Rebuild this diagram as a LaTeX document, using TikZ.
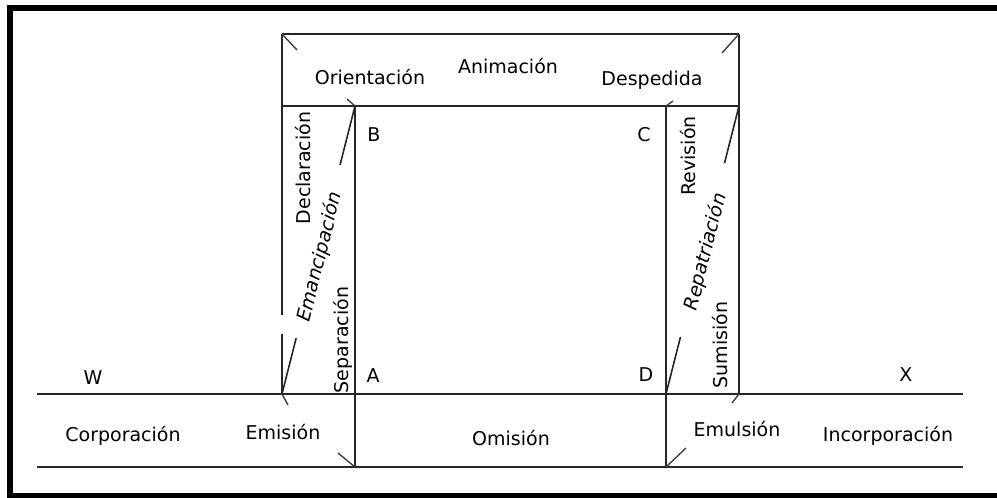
\documentclass[tikz,border=0pt]{standalone}
\usepackage{fontspec}
\setmainfont{DejaVu Sans}
\usetikzlibrary{calc}
\begin{document}
\begin{tikzpicture}[x=1pt,y=-1pt,
  ln/.style={line width=1.6pt, draw=black!85},
  tickln/.style={line width=1.4pt, draw=black!75},
  lbl/.style={font=\fontsize{19}{22}\selectfont, inner sep=0pt, text=black},
  ilbl/.style={font=\fontsize{19}{22}\selectfont\itshape, inner sep=0pt, text=black}]
\useasboundingbox (0,0) rectangle (997,498);
\clip (0,0) rectangle (997,498);
\draw[line width=6pt] (10,8) rectangle (1010,496);
% points
\coordinate (TL) at (282,34);
\coordinate (TR) at (739,34);
\coordinate (ML) at (282,106);
\coordinate (MR) at (739,106);
\coordinate (B) at (355,106);
\coordinate (C) at (666,106);
\coordinate (D) at (666,394);
\coordinate (LW) at (282,394);
\coordinate (RX) at (739,394);
\coordinate (Abot) at (355,467);
\coordinate (Dbot) at (666,467);
\coordinate (W0) at (37,394);
\coordinate (X1) at (963,394);
\coordinate (BL0) at (37,467);
\coordinate (BR1) at (963,467);
\coordinate (gapL1) at (282,315);
\coordinate (gapL2) at (282,334);
% frame lines
\draw[ln] (TL) -- (TR);
\draw[ln] (ML) -- (MR);
\draw[ln] (TL) -- (gapL1);
\draw[ln] (gapL2) -- (LW);
\draw[ln] (TR) -- (RX);
\draw[ln] (B) -- (Abot);
\draw[ln] (C) -- (Dbot);
\draw[ln] (W0) -- (X1);
\draw[ln] (BL0) -- (BR1);
% long diagonals with gaps for labels
\draw[ln] (B) -- ($(B)!0.205!(LW)$);
\draw[ln] ($(B)!0.806!(LW)$) -- (LW);
\draw[ln] (MR) -- ($(MR)!0.198!(D)$);
\draw[ln] ($(MR)!0.802!(D)$) -- (D);
% ticks
\draw[tickln] (TL) -- (297,50);
\draw[tickln] (347,99) -- (B);
\draw[tickln] (LW) -- (288,405);
\draw[tickln] (338,453) -- (Abot);
\draw[tickln] (TR) -- (722,53);
\draw[tickln] (C) -- (673,101);
\draw[tickln] (RX) -- (732,403);
\draw[tickln] (Dbot) -- (686,448);
% labels
\node[lbl] (anim) at (508,66) {Animación};
\node[lbl] (orient) at (370,77) {Orientación};
\node[lbl] (desp) at (652,80) {Despedida};
\node[lbl] (lB) at (374,135) {B};
\node[lbl] (lC) at (644,135) {C};
\node[lbl] (lA) at (373,376) {A};
\node[lbl] (lD) at (646,375) {D};
\node[lbl] (lW) at (93,378) {W};
\node[lbl] (lX) at (906,375) {X};
\node[lbl] (corp) at (123,436) {Corporación};
\node[lbl] (emis) at (283,432) {Emisión};
\node[lbl] (omis) at (511,438) {Omisión};
\node[lbl] (emul) at (737,429) {Emulsión};
\node[lbl] (incorp) at (888,436) {Incorporación};
\node[lbl, rotate=90] (decl) at (303,168) {Declaración};
\node[lbl, rotate=90] (sepa) at (343,340) {Separación};
\node[lbl, rotate=90] (revi) at (688,156) {Revisión};
\node[lbl, rotate=90] (sumi) at (720,345) {Sumisión};
\node[ilbl, rotate=76] (emanc) at (320,257) {Emancipación};
\node[ilbl, rotate=76] (repat) at (706,252) {Repatriación};
\end{tikzpicture}
\end{document}
